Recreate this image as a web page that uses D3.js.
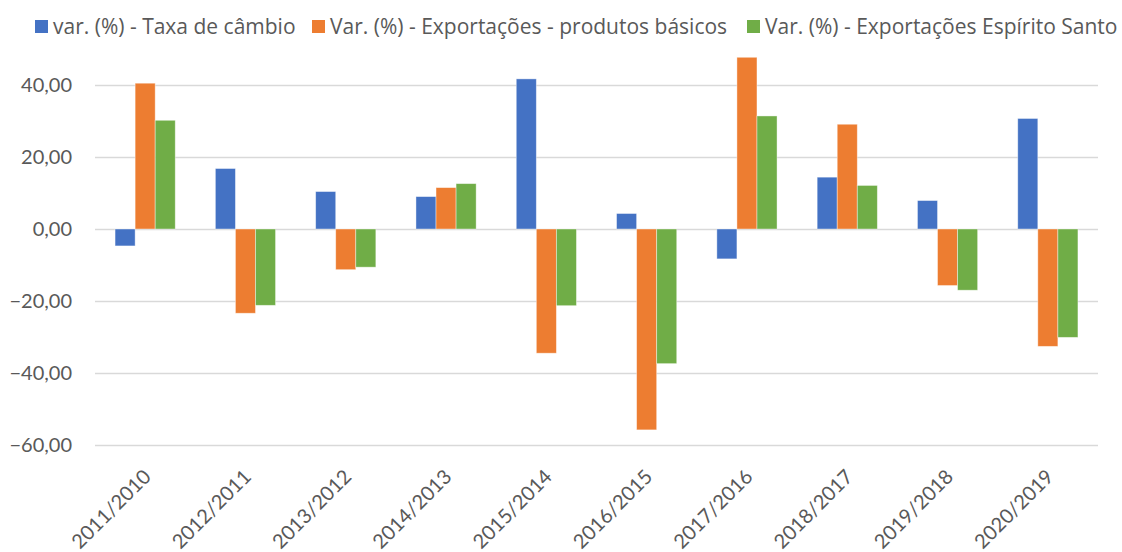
<!DOCTYPE html>
<html lang="pt">

<head>
    <meta charset="utf-8">
    <script src='https://d3js.org/d3.v7.min.js'></script>
    <style>
        body { margin: 0; background: #fff; }
        text { font-family: Lato, "Open Sans", sans-serif; fill: #595959; }
    </style>
</head>

<body>
</body>

<script>

    // categories (periods) and the three series
    const periods = ['2011/2010', '2012/2011', '2013/2012', '2014/2013', '2015/2014',
                     '2016/2015', '2017/2016', '2018/2017', '2019/2018', '2020/2019'];

    const seriesNames = ['var. (%) - Taxa de câmbio',
                         'Var. (%) - Exportações - produtos básicos',
                         'Var. (%) - Exportações Espírito Santo'];

    const taxaCambio = [-4.7, 16.8, 10.4, 9.0, 41.7, 4.3, -8.3, 14.4, 7.9, 30.7];
    const exportBasicos = [40.5, -23.4, -11.3, 11.5, -34.5, -55.8, 47.7, 29.1, -15.7, -32.6];
    const exportES = [30.2, -21.2, -10.6, 12.6, -21.3, -37.4, 31.4, 12.1, -17.0, -30.1];

    const yTicks = [-60, -40, -20, 0, 20, 40];

    const colors = ['#4472C4', '#ED7D31', '#70AD47'];

    const width = 1122;
    const height = 552;
    const plotLeft = 95, plotRight = 1098;
    const plotTop = 85, plotBottom = 445;

    const allSeries = [taxaCambio, exportBasicos, exportES];

    // table: one row per period
    const rows = periods.map(function (p, i) {
        return { period: p, values: allSeries.map(function (s, k) { return { k: k, v: s[i] }; }) };
    });

    const svg = d3.select("body")
                    .append("svg")
                    .attr("width", width)
                    .attr("height", height);

    const x0 = d3.scaleBand()
                    .domain(periods)
                    .range([plotLeft, plotRight])
                    .paddingInner(0.4)
                    .paddingOuter(0.2);

    const x1 = d3.scaleBand()
                    .domain([0, 1, 2])
                    .range([0, x0.bandwidth()]);

    const y = d3.scaleLinear()
                    .domain([-60, 40])
                    .range([plotBottom, plotTop]);

    const ptBR = d3.formatLocale({ decimal: ",", thousands: ".", grouping: [3], currency: ["R$", ""] });
    const fmt = ptBR.format(".2f");

    // gridlines + y labels
    const yAxis = d3.axisLeft(y)
                    .tickValues(yTicks)
                    .tickSize(-(plotRight - plotLeft))
                    .tickPadding(23)
                    .tickFormat(fmt);

    const gy = svg.append("g")
                    .attr("transform", "translate(" + plotLeft + ",0)")
                    .call(yAxis);

    gy.select(".domain").remove();
    gy.selectAll(".tick line")
        .attr("stroke", "#d9d9d9")
        .attr("stroke-width", 1.3);
    gy.selectAll(".tick text")
        .attr("font-size", 20)
        .style("font-family", "Lato, 'Open Sans', sans-serif")
        .attr("fill", "#595959");

    // bars
    const groups = svg.selectAll("g.period")
                    .data(rows)
                    .enter()
                    .append("g")
                    .attr("class", "period")
                    .attr("transform", function (d) {
                        return "translate(" + x0(d.period) + ",0)";
                    });

    groups.selectAll("rect")
        .data(function (d) { return d.values; })
        .enter()
        .append("rect")
        .attr("x", function (d) { return x1(d.k); })
        .attr("width", x1.bandwidth())
        .attr("y", function (d) { return Math.min(y(d.v), y(0)); })
        .attr("height", function (d) { return Math.abs(y(d.v) - y(0)); })
        .attr("fill", function (d) { return colors[d.k]; })
        .attr("stroke", "#ffffff")
        .attr("stroke-opacity", 0.5)
        .attr("stroke-width", 0.8);

    // x labels, rotated
    svg.selectAll("text.xlab")
        .data(periods)
        .enter()
        .append("text")
        .attr("class", "xlab")
        .attr("font-size", 20)
        .attr("text-anchor", "end")
        .attr("dy", "0.35em")
        .attr("transform", function (d) {
            const cx = x0(d) + x0.bandwidth() / 2;
            return "translate(" + (cx + 2) + "," + (plotBottom + 28) + ") rotate(-45)";
        })
        .text(function (d) { return d; });

    // legend
    const legendX = [35, 312, 747];
    const legend = svg.selectAll("g.legend")
                    .data(seriesNames)
                    .enter()
                    .append("g")
                    .attr("class", "legend")
                    .attr("transform", function (d, i) {
                        return "translate(" + legendX[i] + ",20)";
                    });

    legend.append("rect")
        .attr("width", 13)
        .attr("height", 13)
        .attr("fill", function (d, i) { return colors[i]; });

    legend.append("text")
        .attr("x", 18)
        .attr("y", 7)
        .attr("dy", "0.35em")
        .attr("font-size", 21)
        .style("font-family", "'Open Sans', Lato, sans-serif")
        .text(function (d) { return d; });

</script>

</html>
